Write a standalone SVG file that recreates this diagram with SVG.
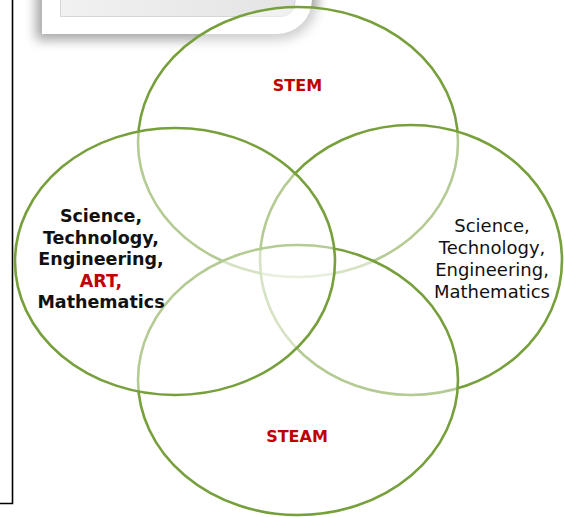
<svg xmlns="http://www.w3.org/2000/svg" width="564" height="517" viewBox="0 0 564 517">
  <defs>
    <filter id="shadow" x="-20%" y="-50%" width="140%" height="250%">
      <feGaussianBlur stdDeviation="6"/>
    </filter>
    <linearGradient id="innerFill" x1="0" y1="0" x2="1" y2="0">
      <stop offset="0" stop-color="#f1f1f1"/>
      <stop offset="1" stop-color="#e4e4e4"/>
    </linearGradient>
  </defs>
  <style>
    .ring { fill: #ffffff; fill-opacity: 0.45; stroke: #77a03c; stroke-width: 2.6; }
    .lbl { font-family: "DejaVu Sans", "Open Sans", sans-serif; text-anchor: middle; }
    .title { font-size: 16px; font-weight: 700; }
    .lft { font-size: 17.5px; font-weight: 700; }
    .rgt { font-size: 18px; }
    .red { fill: #c00000; }
    .blk { fill: #111111; }
  </style>
  <rect width="564" height="517" fill="#ffffff"/>

  <!-- page frame line -->
  <path d="M12.5,0 V503.5 H0" fill="none" stroke="#000000" stroke-width="1.6"/>

  <!-- top-left card -->
  <g id="card">
    <path d="M36,-20 H318 V0 A40,40 0 0 1 278,40 H36 Z" fill="#000000" opacity="0.35" filter="url(#shadow)"/>
    <path d="M42,-5 H312 V-1 A35,35 0 0 1 277,34 H42 Z" fill="#ffffff"/>
    <path d="M60.5,-5 H295 V2 A14,14 0 0 1 281,16.5 H60.5 Z" fill="url(#innerFill)" stroke="#d6d6d6" stroke-width="1"/>
  </g>

  <g id="connectors"/>

  <g id="node-stem">
    <ellipse class="ring" cx="298" cy="142" rx="160" ry="135"/>
    <text class="lbl title red" x="297.5" y="91">STEM</text>
  </g>

  <g id="node-right">
    <ellipse class="ring" cx="411" cy="260" rx="151" ry="135"/>
    <text class="lbl rgt blk" x="492" y="232">Science,</text>
    <text class="lbl rgt blk" x="492" y="254">Technology,</text>
    <text class="lbl rgt blk" x="492" y="276">Engineering,</text>
    <text class="lbl rgt blk" x="492" y="298">Mathematics</text>
  </g>

  <g id="node-steam">
    <ellipse class="ring" cx="298" cy="380" rx="160" ry="135"/>
    <text class="lbl title red" x="297" y="442">STEAM</text>
  </g>

  <g id="node-left">
    <ellipse class="ring" cx="175" cy="261.5" rx="160" ry="133.5"/>
    <text class="lbl lft blk" x="101" y="222">Science,</text>
    <text class="lbl lft blk" x="101" y="243.5">Technology,</text>
    <text class="lbl lft blk" x="101" y="265">Engineering,</text>
    <text class="lbl lft red" x="101" y="286.5">ART,</text>
    <text class="lbl lft blk" x="101" y="308">Mathematics</text>
  </g>
</svg>
